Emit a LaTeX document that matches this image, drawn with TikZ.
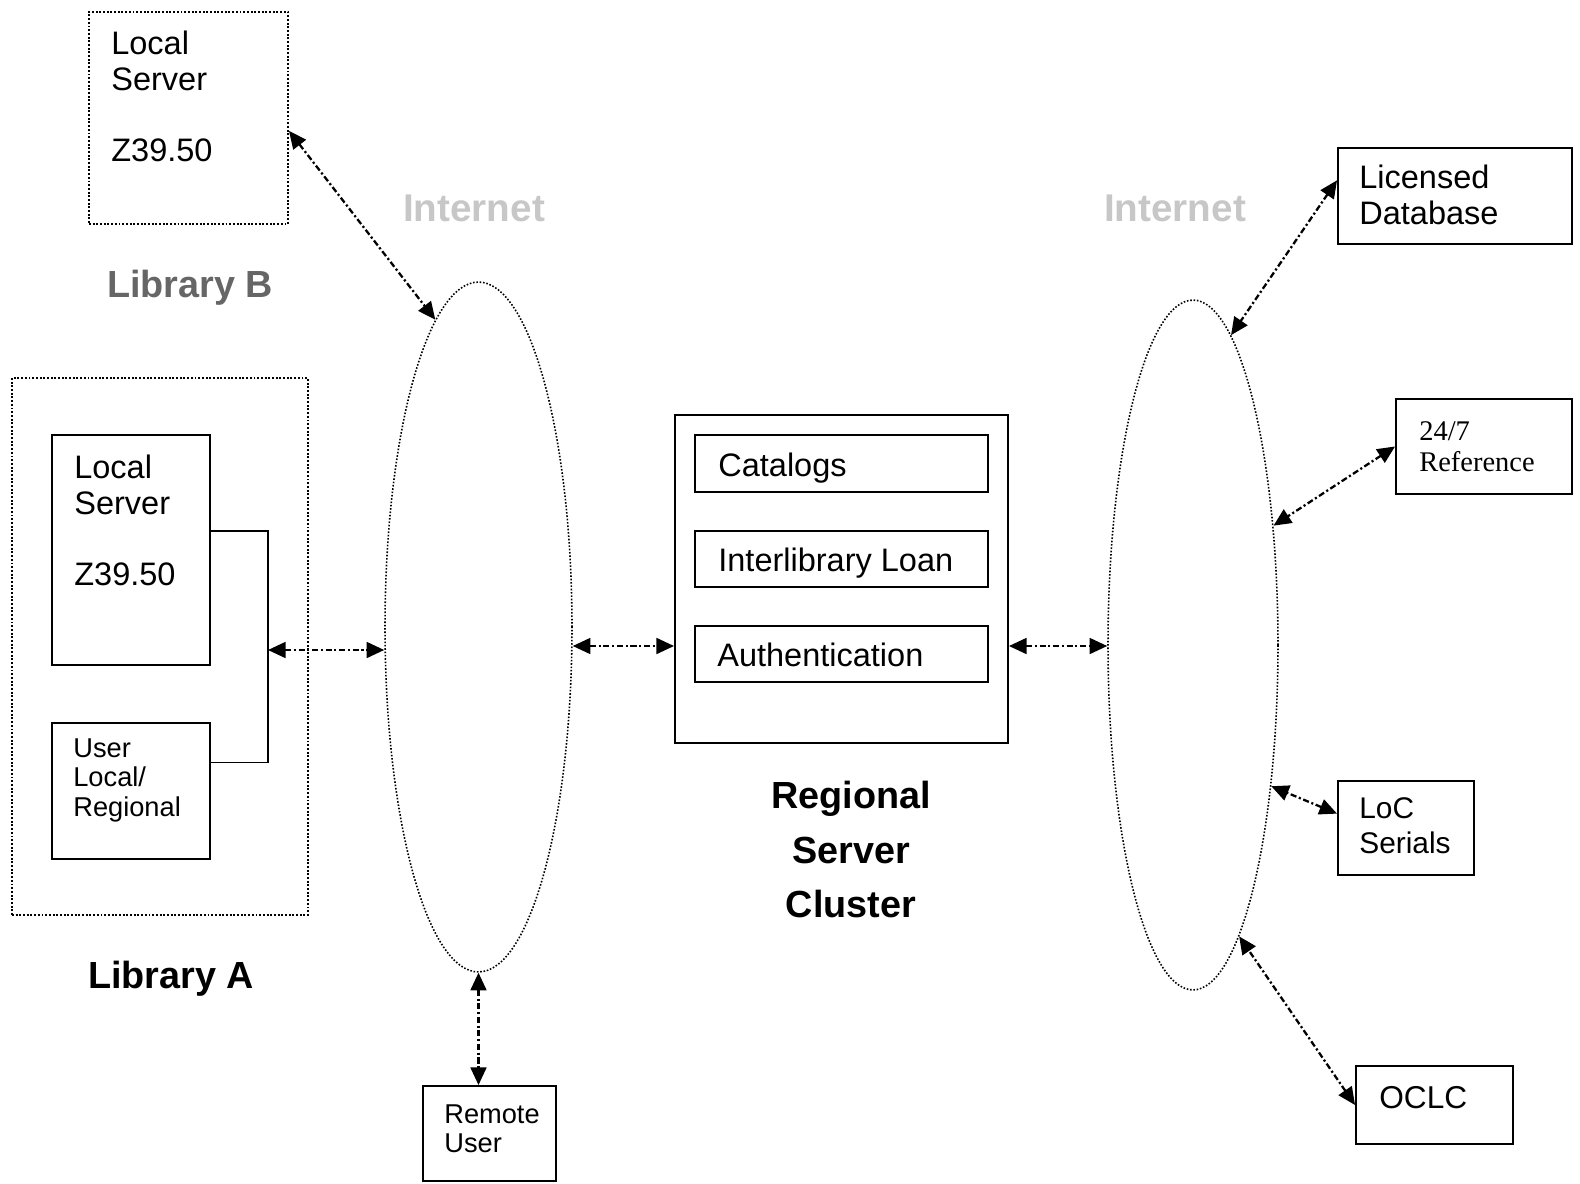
\documentclass[tikz,border=0pt]{standalone}
\usepackage{fontspec}
\setmainfont{Liberation Sans}
\newfontfamily\seriffont{Liberation Serif}
\usetikzlibrary{arrows.meta,shapes.geometric,fit,calc}
\begin{document}
\begin{tikzpicture}[x=0.02cm,y=-0.02cm,
  box/.style={draw, line width=1.1pt, inner sep=0pt},
  dbox/.style={draw, line width=1.1pt, densely dotted, inner sep=0pt},
  cloud/.style={draw, ellipse, line width=0.9pt, densely dotted, inner sep=0pt},
  conn/.style={line width=1.3pt, dash pattern=on 3.5pt off 1.5pt on 1.2pt off 1.5pt,
    {Triangle[length=10pt,width=9pt]}-{Triangle[length=10pt,width=9pt]}},
  bracket/.style={line width=1pt},
  txt/.style={anchor=north west, inner sep=0pt, align=left},
  stxt/.style={anchor=base west, inner sep=0pt},
  big/.style={font=\fontsize{18.5}{20.3}\selectfont},
  mid/.style={font=\fontsize{17}{19.8}\selectfont},
  small/.style={font=\fontsize{15.5}{17}\selectfont},
  lbl/.style={inner sep=0pt, align=center, font=\bfseries\fontsize{21.5}{31}\selectfont},
  faint/.style={inner sep=0pt, text=black!22, font=\bfseries\fontsize{22}{24}\selectfont}
]
\useasboundingbox (0,0) rectangle (1580,1184);

% Library B
\node[dbox, fit={(89,12) (288,224)}] (lbB) {};
\node[txt, big] (lbBt) at (111,31) {Local\\Server\\[20pt]Z39.50};
\node[lbl, anchor=base, text=black!60] (lbBl) at (190,297) {Library B};

% Internet labels
\node[faint] (netL) at (474,208) {Internet};
\node[faint] (netR) at (1175,208) {Internet};

% Library A
\node[dbox, fit={(12,378) (308,915)}] (libA) {};
\node[box, fit={(52,435) (210,665)}] (lsA) {};
\node[txt, big] (lsAt) at (74,455) {Local\\Server\\[20pt]Z39.50};
\node[box, fit={(52,723) (210,859)}] (usr) {};
\node[txt, small] (usrt) at (73,738) {User\\Local/\\Regional};
\node[lbl, anchor=base] (libAl) at (171,988) {Library A};

% clouds
\node[cloud, minimum width=3.74cm, minimum height=13.8cm] (ellL) at (478.5,627) {};
\node[cloud, minimum width=3.4cm, minimum height=13.8cm] (ellR) at (1193,645) {};

% Remote user
\node[box, fit={(423,1086) (556,1181)}] (rem) {};
\node[txt, small] (remt) at (444,1104) {Remote\\User};

% Regional server cluster
\node[box, fit={(675,415) (1008,743)}] (regB) {};
\node[box, fit={(695,435) (988,492)}] (cat) {};
\node[stxt, big] (catt) at (718,476) {Catalogs};
\node[box, fit={(695,531) (988,587)}] (ill) {};
\node[stxt, big] (illt) at (718,571) {Interlibrary Loan};
\node[box, fit={(695,626) (988,682)}] (auth) {};
\node[stxt, big] (autht) at (717,666) {Authentication};
\node[lbl, anchor=north] (regl) at (851,781) {Regional\\Server\\Cluster};

% right side services
\node[box, fit={(1338,148) (1572,244)}] (lic) {};
\node[txt, big] (lict) at (1359,165) {Licensed\\Database};
\node[box, fit={(1396,399) (1572,494)}] (ref) {};
\node[txt, font=\seriffont\fontsize{16.2}{18}\selectfont] (reft) at (1419,421) {24/7\\Reference};
\node[box, fit={(1338,781) (1474,875)}] (loc) {};
\node[txt, mid] (loct) at (1359,797) {LoC\\Serials};
\node[box, fit={(1356,1066) (1513,1144)}] (oclc) {};
\node[stxt, font=\fontsize{18}{20}\selectfont] (oclct) at (1379,1108) {OCLC};

% connectors
\draw[conn] ($(lbB.north east)!0.56!(lbB.south east)$) -- (ellL.98);
\coordinate (jn) at (268,650);
\draw[bracket] ($(lsA.north east)!0.417!(lsA.south east)$) -| (jn) |- ($(usr.north east)!0.294!(usr.south east)$);
\draw[conn] (jn) -- (jn -| ellL.west);
\coordinate (my) at (0,646);
\draw[conn] (ellL.east |- my) -- (regB.west |- my);
\draw[conn] (regB.east |- my) -- (ellR.west |- my);
\draw[conn] (ellL.south) -- (ellL.south |- rem.north);
\draw[conn] ($(lic.north west)!0.34!(lic.south west)$) -- (ellR.83);
\draw[conn] (ref.west) -- (ellR.56);
\draw[conn] ($(loc.north west)!0.35!(loc.south west)$) -- (ellR.299);
\draw[conn] (oclc.west) -- (ellR.279);
\end{tikzpicture}
\end{document}
